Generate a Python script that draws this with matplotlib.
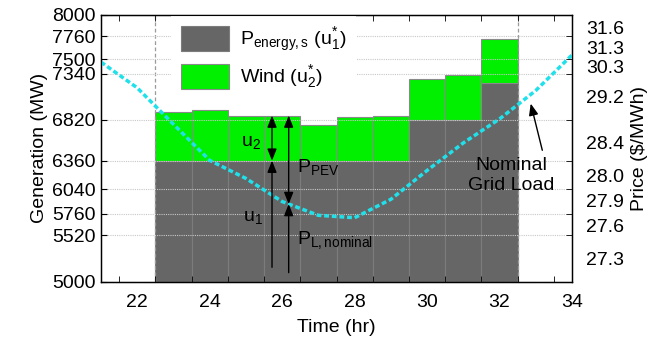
import numpy as np
import matplotlib.pyplot as plt

plt.rcParams['font.family'] = ['Liberation Sans', 'DejaVu Sans']
plt.rcParams['mathtext.fontset'] = 'custom'
plt.rcParams['mathtext.rm'] = 'Liberation Sans'
plt.rcParams['mathtext.it'] = 'Liberation Sans:italic'
plt.rcParams['mathtext.bf'] = 'Liberation Sans:bold'
plt.rcParams['font.size'] = 14

# bars (one per hour)
hours = np.arange(23, 33)
energy = [6360, 6360, 6360, 6360, 6360, 6360, 6360, 6820, 6820, 7230]
wind = [545, 576, 508, 508, 400, 490, 506, 465, 502, 495]

# nominal grid load curve
load_t = np.arange(21, 35)
load = [7470, 7180, 6770, 6364, 6160, 5900, 5745, 5718, 5925, 6250, 6560, 6830, 7150, 7550]

# ticks
gen_ticks = [5000, 5520, 5760, 6040, 6360, 6820, 7340, 7500, 7760, 8000]
price_labels = ['31.6', '31.3', '30.3', '29.2', '28.4', '28.0', '27.9', '27.6', '27.3']
price_pos = [7856, 7635, 7424, 7078, 6570, 6195, 5913, 5631, 5256]

gray = '#666666'
green = '#00f000'

fig = plt.figure(figsize=(6.49, 3.39), dpi=100)
ax = fig.add_axes([0.1556, 0.1696, 0.7258, 0.7862])

ax.bar(hours, energy, width=1, color=gray, edgecolor='#7c7c7c', lw=0.8,
       label=r'P$_{\mathrm{energy,s}}$ (u$_{1}^{*}$)', zorder=1)
ax.bar(hours, wind, bottom=energy, width=1, color=green, edgecolor='#8a8a8a', lw=0.8,
       label=r'Wind (u$_{2}^{*}$)', zorder=1)

ax.plot(load_t, load, color='#20e0ea', lw=2.5, ls=(0, (1.4, 0.8)), zorder=3)

for xv in [hours[0] - 0.5, hours[-1] + 0.5]:
    ax.axvline(xv, color='#9a9a9a', lw=0.9, ls=(0, (3, 2)), zorder=2)

ax.set_xlim(21, 34)
ax.set_ylim(5000, 8000)
ax.set_yticks(gen_ticks)
ax.set_xticks(np.arange(22, 35, 2))
ax.set_xticks(np.arange(21.5, 34, 1), minor=True)
ax.tick_params(axis='x', which='major', length=0, pad=9)
ax.tick_params(axis='x', which='minor', direction='in', length=4, top=True, bottom=True)
ax.tick_params(axis='y', direction='in', length=4, pad=4)
ax.yaxis.grid(True, color='#c8c8c8', lw=0.8, ls=(0, (1, 1)), zorder=2)
ax.set_axisbelow(False)
for s in ax.spines.values():
    s.set_linewidth(1.0)

ax.set_xlabel('Time (hr)', labelpad=6)
ax.set_ylabel('Generation (MW)', labelpad=3)

# arrows
hs = '-|>,head_length=0.5,head_width=0.2'
dh = '<|-|>,head_length=0.5,head_width=0.2'
x1, x2 = 25.72, 26.18
top26 = energy[3] + wind[3]
pl = np.interp(x2, load_t, load)
kw = dict(color='k', lw=1.0, shrinkA=0, shrinkB=0, mutation_scale=14)
ax.annotate('', xy=(x1, energy[3]), xytext=(x1, 5160), arrowprops=dict(arrowstyle=hs, **kw))
ax.annotate('', xy=(x1, top26), xytext=(x1, energy[3]), arrowprops=dict(arrowstyle=dh, **kw))
ax.annotate('', xy=(x2, pl), xytext=(x2, 5100), arrowprops=dict(arrowstyle=hs, **kw))
ax.annotate('', xy=(x2, top26), xytext=(x2, pl), arrowprops=dict(arrowstyle=dh, **kw))

ax.text(25.42, 6560, r'u$_2$', ha='right', va='center')
ax.text(25.46, 5720, r'u$_1$', ha='right', va='center')
ax.text(26.4, 6285, r'P$_{\mathrm{PEV}}$', ha='left', va='center')
ax.text(26.4, 5462, r'P$_{\mathrm{L,nominal}}$', ha='left', va='center')

ax.text(32.32, 6195, 'Nominal\nGrid Load', ha='center', va='center', linespacing=1.2)
ax.annotate('', xy=(32.86, 7003), xytext=(33.18, 6477), arrowprops=dict(arrowstyle=hs, **kw))

leg = ax.legend(loc='upper left', bbox_to_anchor=(0.1486, 0.996), borderaxespad=0,
                frameon=True, fancybox=False, facecolor='white', edgecolor='none', framealpha=1,
                handlelength=2.48, handleheight=1.6, labelspacing=0.5, handletextpad=0.55,
                borderpad=0.5)
leg.set_zorder(5)

ax2 = ax.twinx()
ax2.set_ylim(5000, 8000)
ax2.set_yticks(price_pos)
ax2.set_yticklabels(price_labels)
ax2.set_yticks(gen_ticks, minor=True)
ax2.tick_params(axis='y', which='major', length=0, pad=10)
ax2.tick_params(axis='y', which='minor', direction='in', length=4)
ax2.set_ylabel('Price ($/MWh)', labelpad=5)

fig.savefig('out.png', dpi=100)
